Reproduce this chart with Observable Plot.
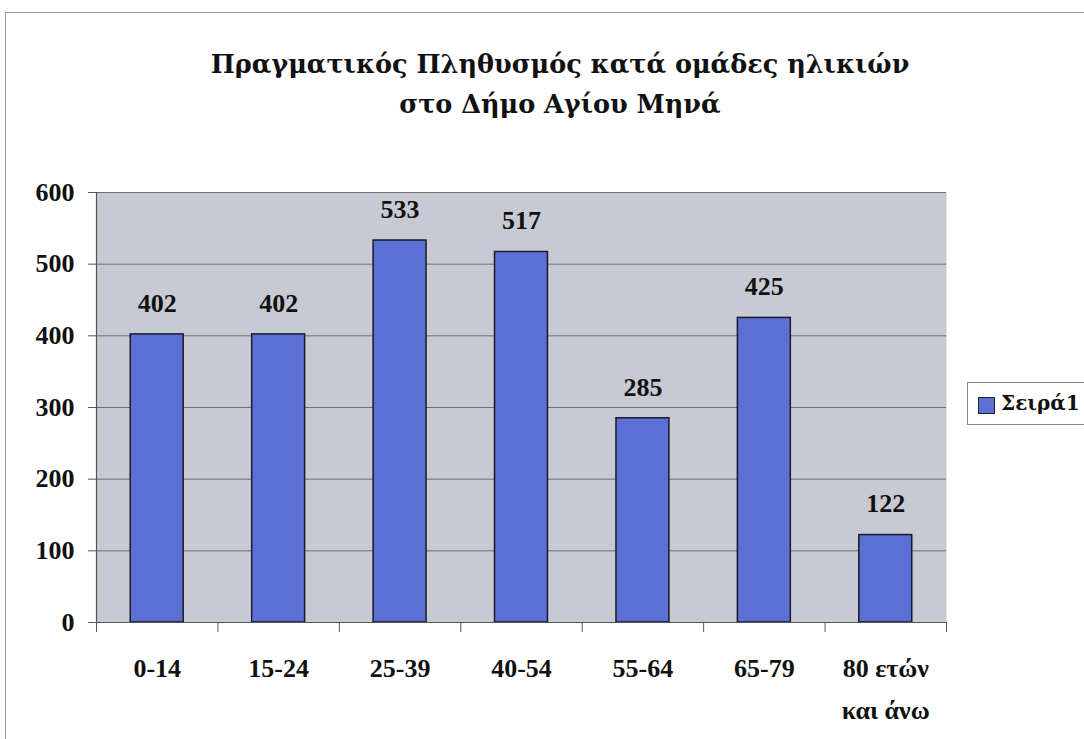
<!DOCTYPE html>
<html>
<head>
<meta charset="utf-8">
<script src="https://cdn.jsdelivr.net/npm/d3@7"></script>
<script src="https://cdn.jsdelivr.net/npm/@observablehq/plot@0.6"></script>
<style>
  body { margin: 0; background: #fff; font-family: "Liberation Serif", "Times New Roman", Times, "DejaVu Serif", serif; }
  #wrap { position: relative; width: 1084px; height: 739px; overflow: hidden; }
  #border { position: absolute; left: 5px; top: 12px; width: 1100px; height: 760px; border: 1px solid #9a9a9a; box-sizing: border-box; }
  #title { position: absolute; left: 0; top: 0; width: 1120px; height: 150px; text-align: center;
           font-family: "DejaVu Serif", serif; font-weight: bold; font-size: 25.5px; color: #111; }
  #title div { position: absolute; width: 100%; }
  #chart { position: absolute; left: 0; top: 150px; }
  #legend { position: absolute; left: 967px; top: 382px; width: 130px; height: 43px;
            border: 1px solid #888; box-sizing: border-box; background: #fff;
            font-family: "DejaVu Serif", serif; font-weight: bold; font-size: 20px; color: #111; }
  #legend .sw { position: absolute; left: 10px; top: 14px; width: 15px; height: 15px; background: #5b6fd4; border: 1px solid #222; }
  #legend .lb { position: absolute; left: 33px; top: 8px; }
  svg text { font-family: "Liberation Serif", "Times New Roman", Times, "DejaVu Serif", serif; }
</style>
</head>
<body>
<div id="wrap">
  <div id="border"></div>
  <div id="title">
    <div style="top:49px">Πραγματικός Πληθυσμός κατά ομάδες ηλικιών</div>
    <div style="top:89px">στο Δήμο Αγίου Μηνά</div>
  </div>
  <div id="chart"></div>
  <div id="legend"><div class="sw"></div><div class="lb">Σειρά1</div></div>
</div>
<script>
const categories = ["0-14", "15-24", "25-39", "40-54", "55-64", "65-79", "80 ετών\nκαι άνω"];
const values = [402, 402, 533, 517, 285, 425, 122];
const yTicks = [0, 100, 200, 300, 400, 500, 600];
const seriesName = "Σειρά1";

const data = categories.map((c, i) => ({i, category: c, value: values[i]}));
const idx = categories.map((_, i) => i);
const bounds = [-0.5, ...idx.map(i => i + 0.5)];
const half = 0.218;
const font = "'Liberation Serif', 'Times New Roman', Times, 'DejaVu Serif', serif";

const plot = Plot.plot({
  width: 1084,
  height: 589,
  marginLeft: 96,
  marginRight: 138,
  marginTop: 42,
  marginBottom: 117,
  style: {fontFamily: font, background: "transparent", overflow: "visible"},
  x: {type: "linear", domain: [-0.5, categories.length - 0.5]},
  y: {domain: [0, 600]},
  marks: [
    Plot.frame({fill: "#c8cad3", stroke: "none"}),
    Plot.gridY(yTicks, {stroke: "#6e6e6e", strokeOpacity: 1, strokeWidth: 1}),
    Plot.rectY(data, {x1: d => d.i - half, x2: d => d.i + half, y: "value", fill: "#5b6fd4", stroke: "#1a1a2a", strokeWidth: 1.5}),
    Plot.text(data, {x: "i", y: "value", text: d => String(d.value), dy: -31, fontSize: 26, fontWeight: "bold", fill: "#111"}),
    Plot.frame({anchor: "left", stroke: "#555", strokeWidth: 1.2}),
    Plot.frame({anchor: "bottom", stroke: "#555", strokeWidth: 1.2}),
    Plot.axisY(yTicks, {tickSize: 8, tickPadding: 14, fontSize: 26, fontWeight: "bold", stroke: "#555", fill: "#111", label: null}),
    Plot.axisX(bounds, {tickSize: 10, tickFormat: () => "", stroke: "#555", label: null}),
    Plot.axisX(idx, {tickSize: 0, tickPadding: 25, tickFormat: i => categories[i], fontSize: 26, fontWeight: "bold", fill: "#111", lineHeight: 1.6, label: null})
  ]
});
document.getElementById("chart").appendChild(plot);
document.querySelector("#legend .lb").textContent = seriesName;
</script>
</body>
</html>
